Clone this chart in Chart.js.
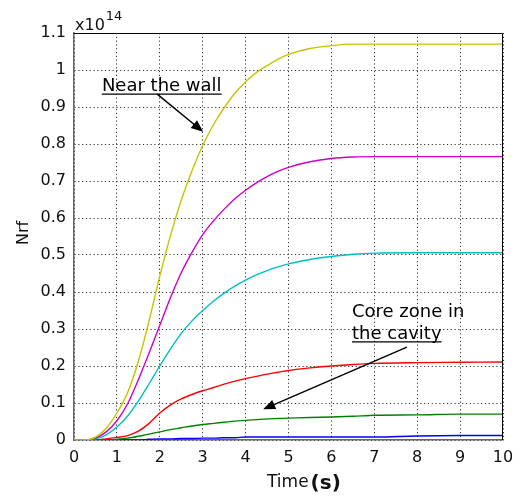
<!DOCTYPE html>
<html>
<head>
<meta charset="utf-8">
<script src="https://cdn.jsdelivr.net/npm/chart.js@4"></script>
<style>
  body { margin: 0; background: #fff; }
  #wrap { width: 518px; height: 500px; }
</style>
</head>
<body>
<div id="wrap"><canvas id="grafico" width="518" height="500"></canvas></div>
<script>
// Dados (Nrf em unidades de 1e14)
const tempos = [0, 0.25, 0.5, 0.75, 1, 1.25, 1.5, 1.75, 2, 2.25, 2.5, 2.75, 3, 3.25, 3.5, 3.75, 4, 4.25, 4.5, 4.75, 5, 5.5, 6, 6.5, 7, 8, 9, 10];
const amarelo = [0, 0, 0.008, 0.032, 0.073, 0.128, 0.213, 0.322, 0.443, 0.553, 0.648, 0.728, 0.796, 0.852, 0.898, 0.937, 0.968, 0.993, 1.012, 1.029, 1.042, 1.058, 1.066, 1.07, 1.07, 1.07, 1.07, 1.07];
const magenta = [0, 0, 0.005, 0.022, 0.052, 0.098, 0.163, 0.235, 0.31, 0.385, 0.452, 0.507, 0.555, 0.592, 0.624, 0.652, 0.675, 0.695, 0.712, 0.726, 0.737, 0.752, 0.761, 0.765, 0.766, 0.766, 0.766, 0.766];
const ciano = [0, 0, 0.003, 0.014, 0.035, 0.065, 0.105, 0.152, 0.2, 0.246, 0.288, 0.322, 0.35, 0.375, 0.397, 0.416, 0.432, 0.446, 0.458, 0.468, 0.476, 0.488, 0.496, 0.502, 0.505, 0.506, 0.506, 0.506];
const vermelho = [0, 0, 0, 0.003, 0.007, 0.012, 0.024, 0.045, 0.073, 0.095, 0.111, 0.123, 0.133, 0.142, 0.151, 0.159, 0.166, 0.172, 0.178, 0.183, 0.188, 0.195, 0.2, 0.204, 0.207, 0.209, 0.21, 0.211];
const verde = [0, 0, 0, 0, 0.002, 0.005, 0.01, 0.016, 0.022, 0.028, 0.033, 0.038, 0.042, 0.045, 0.048, 0.051, 0.053, 0.055, 0.057, 0.058, 0.059, 0.061, 0.062, 0.064, 0.067, 0.068, 0.07, 0.07];
const azul = [0, 0, 0, 0, 0, 0, 0, 0.002, 0.003, 0.003, 0.004, 0.004, 0.005, 0.005, 0.006, 0.006, 0.008, 0.008, 0.008, 0.008, 0.008, 0.008, 0.008, 0.008, 0.008, 0.011, 0.012, 0.012];

const series = [
    { dados: amarelo, cor: "#c8c400" },
    { dados: magenta, cor: "#cc00cc" },
    { dados: ciano, cor: "#00bfc4" },
    { dados: vermelho, cor: "#ff0000" },
    { dados: verde, cor: "#008000" },
    { dados: azul, cor: "#0000ff" },
];

// Anotações em coordenadas dos dados
const notas = [
    { linhas: ["Near the wall"], x: 0.65, y: 0.943, de: [1.94, 0.935], ate: [3.01, 0.833] },
    { linhas: ["Core zone in", "the cavity"], x: 6.48, y: 0.333, de: [7.76, 0.251], ate: [4.41, 0.083] },
];

const fonte = "'DejaVu Sans', Verdana, sans-serif";

function seta(ctx, x1, y1, x2, y2) {
    const ang = Math.atan2(y2 - y1, x2 - x1);
    const c = Math.cos(ang), s = Math.sin(ang);
    ctx.beginPath();
    ctx.moveTo(x1, y1);
    ctx.lineTo(x2 - 8 * c, y2 - 8 * s);
    ctx.stroke();
    ctx.beginPath();
    ctx.moveTo(x2, y2);
    ctx.lineTo(x2 - 12 * c + 5 * s, y2 - 12 * s - 5 * c);
    ctx.lineTo(x2 - 12 * c - 5 * s, y2 - 12 * s + 5 * c);
    ctx.closePath();
    ctx.fill();
}

// Moldura, rótulos e anotações
const extras = {
    id: "extras",
    afterDraw(chart) {
        const { ctx, chartArea: a, scales } = chart;
        ctx.save();
        ctx.strokeStyle = "#000";
        ctx.lineWidth = 1;
        ctx.beginPath();
        ctx.moveTo(a.left, a.top + 0.5);
        ctx.lineTo(a.right - 0.5, a.top + 0.5);
        ctx.lineTo(a.right - 0.5, a.bottom);
        ctx.stroke();

        ctx.fillStyle = "#111";
        ctx.textBaseline = "alphabetic";
        ctx.textAlign = "left";
        ctx.font = "16px " + fonte;
        ctx.fillText("x10", a.left + 1, 30);
        const w = ctx.measureText("x10").width;
        ctx.font = "13px " + fonte;
        ctx.fillText("14", a.left + 2 + w, 20);

        // título do eixo y
        ctx.save();
        ctx.translate(28, 233);
        ctx.rotate(-Math.PI / 2);
        ctx.textAlign = "center";
        ctx.font = "16px " + fonte;
        ctx.fillText("Nrf", 0, 0);
        ctx.restore();

        // título do eixo x
        ctx.font = "17px " + fonte;
        ctx.fillText("Time", 267, 487);
        const wt = ctx.measureText("Time").width;
        ctx.font = "bold 20px " + fonte;
        ctx.fillText("(s)", 269 + wt, 489);

        ctx.font = "18px " + fonte;
        ctx.strokeStyle = "#000";
        ctx.fillStyle = "#000";
        notas.forEach((n) => {
            const px = scales.x.getPixelForValue(n.x);
            const py = scales.y.getPixelForValue(n.y);
            n.linhas.forEach((l, i) => {
                ctx.fillText(l, px, py + i * 22);
            });
            const ultima = n.linhas[n.linhas.length - 1];
            const yl = py + (n.linhas.length - 1) * 22 + 3;
            ctx.lineWidth = 1.3;
            ctx.beginPath();
            ctx.moveTo(px, yl);
            ctx.lineTo(px + ctx.measureText(ultima).width, yl);
            ctx.stroke();
            ctx.lineWidth = 1.5;
            seta(ctx,
                scales.x.getPixelForValue(n.de[0]), scales.y.getPixelForValue(n.de[1]),
                scales.x.getPixelForValue(n.ate[0]), scales.y.getPixelForValue(n.ate[1]));
        });
        ctx.restore();
    }
};

const ctx = document.getElementById("grafico").getContext("2d");
new Chart(ctx, {
    type: "line",
    data: {
        datasets: series.map((s) => ({
            data: tempos.map((t, i) => ({ x: t, y: s.dados[i] })),
            borderColor: s.cor,
            borderWidth: 1.4,
            pointRadius: 0,
            cubicInterpolationMode: "monotone",
            fill: false,
        }))
    },
    options: {
        responsive: false,
        animation: false,
        layout: { padding: { top: 33, right: 15, left: 0, bottom: 0 } },
        plugins: { legend: { display: false }, tooltip: { enabled: false } },
        scales: {
            x: {
                type: "linear",
                min: 0,
                max: 10,
                ticks: { stepSize: 1, padding: 8, color: "#111", font: { family: fonte, size: 16 } },
                grid: { color: "#333", drawTicks: false },
                border: { color: "#666", width: 1.5, dash: [1.2, 2.6] },
                afterFit: (s) => { s.height = 60; s.paddingLeft = 0; s.paddingRight = 0; }
            },
            y: {
                min: 0,
                max: 1.1,
                ticks: {
                    stepSize: 0.1,
                    padding: 8,
                    color: "#111",
                    font: { family: fonte, size: 16 },
                    callback: (v) => String(+v.toFixed(1))
                },
                grid: { color: "#333", drawTicks: false },
                border: { color: "#666", width: 1.5, dash: [1.2, 2.6] },
                afterFit: (s) => { s.width = 74; s.paddingTop = 0; s.paddingBottom = 0; }
            }
        }
    },
    plugins: [extras]
});
</script>
</body>
</html>
